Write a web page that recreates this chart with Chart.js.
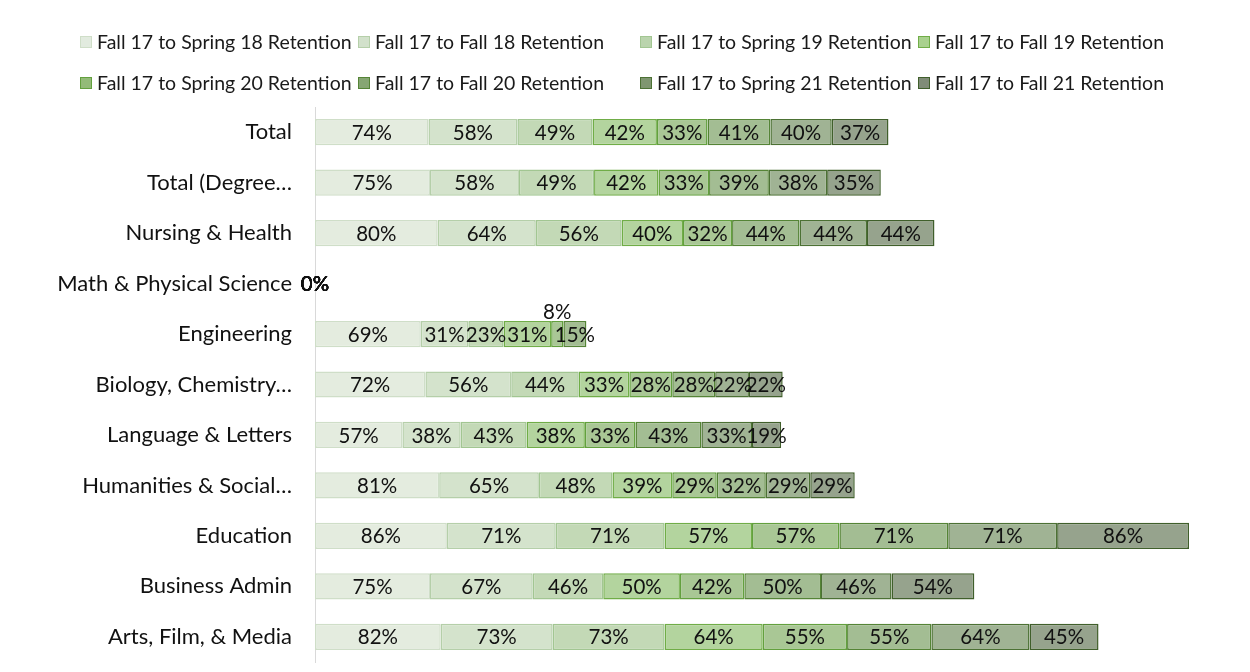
<!DOCTYPE html>
<html>
<head>
<meta charset="utf-8">
<script src="https://cdn.jsdelivr.net/npm/chart.js@4.4.1/dist/chart.umd.min.js"></script>
<style>
  body { margin: 0; background: #fff; }
  #wrap { position: relative; width: 1250px; height: 672px; }
  #legend { position: absolute; left: 0; top: 0; width: 1250px; height: 100px; font-family: Lato, "Open Sans", sans-serif; font-size: 19.5px; color: #1a1a1a; }
  .item { position: absolute; display: flex; align-items: center; white-space: nowrap; }
  .box { width: 12px; height: 12px; margin-right: 5px; box-sizing: border-box; border: 1px solid; }
</style>
</head>
<body>
<div id="wrap">
  <canvas id="chart" width="1250" height="672"></canvas>
  <div id="legend"></div>
</div>
<script>
var categories = ['Total', 'Total (Degree\u2026', 'Nursing & Health', 'Math & Physical Science', 'Engineering',
    'Biology, Chemistry\u2026', 'Language & Letters', 'Humanities & Social\u2026', 'Education', 'Business Admin',
    'Arts, Film, & Media'];

var seriesNames = ['Fall 17 to Spring 18 Retention', 'Fall 17 to Fall 18 Retention', 'Fall 17 to Spring 19 Retention',
    'Fall 17 to Fall 19 Retention', 'Fall 17 to Spring 20 Retention', 'Fall 17 to Fall 20 Retention',
    'Fall 17 to Spring 21 Retention', 'Fall 17 to Fall 21 Retention'];

// values in percent, one array per series, same order as categories
var spring18 = [74, 75, 80, 0, 69, 72, 57, 81, 86, 75, 82];
var fall18   = [58, 58, 64, 0, 31, 56, 38, 65, 71, 67, 73];
var spring19 = [49, 49, 56, 0, 23, 44, 43, 48, 71, 46, 73];
var fall19   = [42, 42, 40, 0, 31, 33, 38, 39, 57, 50, 64];
var spring20 = [33, 33, 32, 0, 8, 28, 33, 29, 57, 42, 55];
var fall20   = [41, 39, 44, 0, 15, 28, 43, 32, 71, 50, 55];
var spring21 = [40, 38, 44, 0, null, 22, 33, 29, 71, 46, 64];
var fall21   = [37, 35, 44, 0, null, 22, 19, 29, 86, 54, 45];

var seriesValues = [spring18, fall18, spring19, fall19, spring20, fall20, spring21, fall21];

var fills = ['#e4ecdf', '#d4e3cc', '#c3d9b6', '#b3d49e', '#a9c795', '#a3bd93', '#a0b394', '#96a38d'];
var borders = ['#cfdec8', '#b5cfa9', '#a2c692', '#70ad47', '#63a03e', '#558436', '#4c7134', '#405f2b'];
var legendFills = ['#e2ebdf', '#d2e1cb', '#bad4ad', '#a9d18e', '#93bb78', '#86a673', '#7f9670', '#808c78'];

var datasets = seriesValues.map(function(vals, i) {
    return {
        label: seriesNames[i],
        data: vals,
        backgroundColor: fills[i],
        borderColor: borders[i],
        borderWidth: 1.5,
        borderSkipped: false,
        categoryPercentage: 1,
        barPercentage: 0.52
    };
});

// html legend laid out in 4 equal columns like the original
var legendLeft = [80, 358, 640, 918];
var legendTop = [30, 71];
var legendEl = document.getElementById('legend');
seriesNames.forEach(function(name, i) {
    var item = document.createElement('div');
    item.className = 'item';
    item.style.left = legendLeft[i % 4] + 'px';
    item.style.top = legendTop[Math.floor(i / 4)] + 'px';
    var box = document.createElement('span');
    box.className = 'box';
    box.style.background = legendFills[i];
    box.style.borderColor = borders[i];
    item.appendChild(box);
    item.appendChild(document.createTextNode(name));
    legendEl.appendChild(item);
});

var barLabels = {
    id: 'barLabels',
    afterDatasetsDraw: function(chart) {
        var ctx = chart.ctx;
        ctx.save();
        ctx.font = '20.5px Lato, "Open Sans", sans-serif';
        ctx.fillStyle = '#111';
        ctx.textAlign = 'center';
        chart.data.datasets.forEach(function(ds, di) {
            var meta = chart.getDatasetMeta(di);
            meta.data.forEach(function(bar, j) {
                var v = ds.data[j];
                if (v === null || v === undefined) return;
                var cx = (bar.x + bar.base) / 2;
                if (v > 0 && v < 10) {
                    // too narrow: put it above the bar
                    ctx.textBaseline = 'bottom';
                    ctx.fillText(v + '%', cx, bar.y - bar.height / 2 + 2);
                } else {
                    ctx.textBaseline = 'middle';
                    ctx.fillText(v + '%', cx, bar.y + 1);
                }
            });
        });
        ctx.restore();
    }
};

new Chart(document.getElementById('chart').getContext('2d'), {
    type: 'bar',
    data: { labels: categories, datasets: datasets },
    options: {
        indexAxis: 'y',
        responsive: false,
        maintainAspectRatio: false,
        animation: false,
        layout: { padding: { top: 107, bottom: 10, left: 0, right: 15 } },
        plugins: {
            legend: { display: false },
            tooltip: { enabled: false }
        },
        scales: {
            x: {
                stacked: true,
                display: false,
                min: 0,
                max: 600
            },
            y: {
                stacked: true,
                grid: { display: false, drawTicks: false },
                border: { display: true, color: '#d9d9d9', width: 1 },
                ticks: {
                    color: '#111',
                    padding: 23,
                    font: { family: 'Lato, "Open Sans", sans-serif', size: 22 }
                },
                afterFit: function(scale) {
                    scale.width = 315;
                    // tick padding would otherwise be added above and below the axis
                    scale.paddingTop = 0;
                    scale.paddingBottom = 0;
                }
            }
        }
    },
    plugins: [barLabels]
});
</script>
</body>
</html>
